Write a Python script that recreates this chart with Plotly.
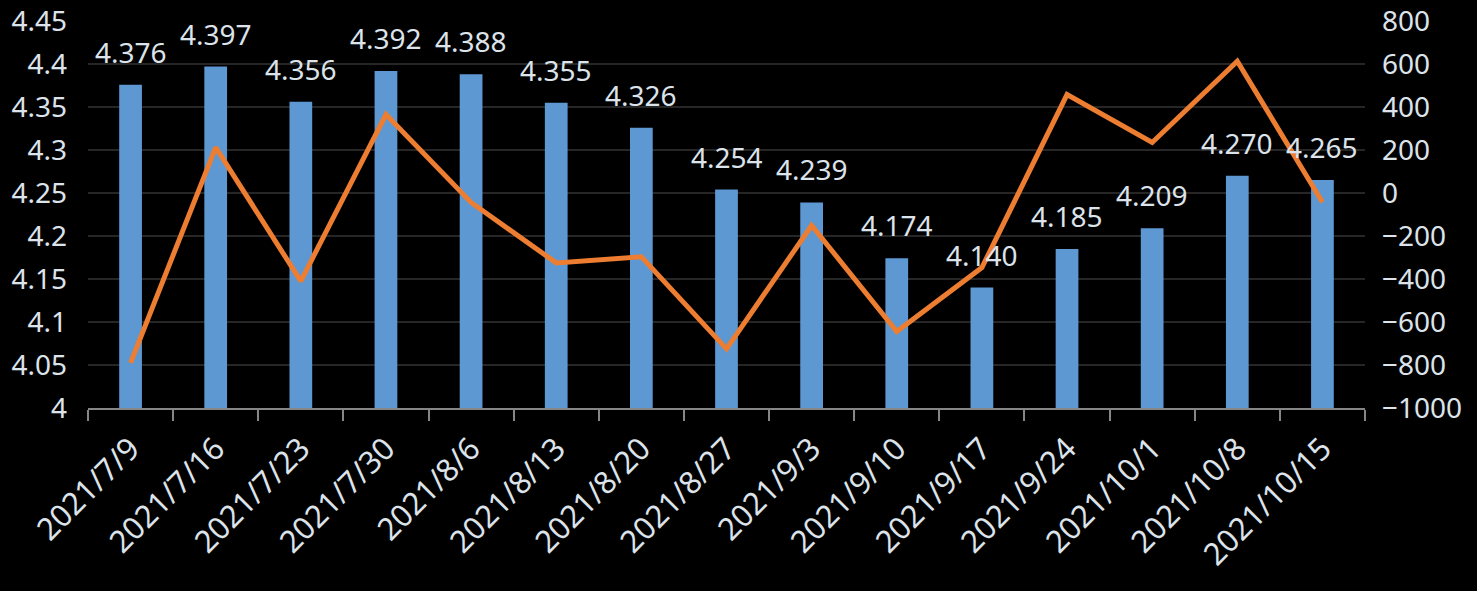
import plotly.graph_objects as go

categories = ["2021/7/9", "2021/7/16", "2021/7/23", "2021/7/30", "2021/8/6", "2021/8/13",
              "2021/8/20", "2021/8/27", "2021/9/3", "2021/9/10", "2021/9/17", "2021/9/24",
              "2021/10/1", "2021/10/8", "2021/10/15"]
bar_values = [4.376, 4.397, 4.356, 4.392, 4.388, 4.355, 4.326, 4.254, 4.239, 4.174,
              4.140, 4.185, 4.209, 4.270, 4.265]
line_values = [-790, 212, -410, 365, -44, -325, -297, -725, -151, -644,
               -347, 458, 235, 613, -43]
left_ticks = [4, 4.05, 4.1, 4.15, 4.2, 4.25, 4.3, 4.35, 4.4, 4.45]
left_tick_text = ["4", "4.05", "4.1", "4.15", "4.2", "4.25", "4.3", "4.35", "4.4", "4.45"]
right_ticks = [-1000, -800, -600, -400, -200, 0, 200, 400, 600, 800]

FONT = "Noto Sans"
TXT = "#dde3ea"

fig = go.Figure()
fig.add_trace(go.Bar(
    x=categories, y=bar_values, marker=dict(color="#5d98d3", line=dict(width=0)),
    yaxis="y", showlegend=False, hoverinfo="x+y"))
fig.add_trace(go.Scatter(
    x=categories, y=line_values, mode="lines", yaxis="y2",
    line=dict(color="#ed7d31", width=5), showlegend=False))

for c, v in zip(categories, bar_values):
    fig.add_annotation(x=c, y=v, xref="x", yref="y", text=f"{v:.3f}", showarrow=False,
                       yanchor="bottom", yshift=12, font=dict(family=FONT, size=28, color=TXT))

fig.update_layout(
    width=1477, height=591,
    margin=dict(l=88, r=112, t=21, b=183, autoexpand=False),
    paper_bgcolor="black", plot_bgcolor="black",
    bargap=0.733,
    font=dict(family=FONT, size=28, color=TXT),
    xaxis=dict(type="category", tickangle=-45, tickson="boundaries", ticks="outside",
               ticklen=11, tickwidth=2, tickcolor="#868686", showline=True,
               linecolor="#868686", linewidth=2, showgrid=False, automargin=False,
               ticklabelstandoff=8,
               tickfont=dict(family=FONT, size=31, color=TXT)),
    yaxis=dict(range=[4, 4.45], tickvals=left_ticks, ticktext=left_tick_text,
               showgrid=True, gridcolor="#262626", gridwidth=2, zeroline=False,
               showline=False, ticks="", ticklabelstandoff=20, automargin=False,
               tickfont=dict(family=FONT, size=28, color=TXT)),
    yaxis2=dict(range=[-1000, 800], tickvals=right_ticks, overlaying="y", side="right",
                showgrid=False, zeroline=False, showline=False, ticks="",
                ticklabelstandoff=16, automargin=False,
                tickfont=dict(family=FONT, size=28, color=TXT)),
)

fig.write_html("out.html", config={"displayModeBar": False},
               post_script="document.body.style.margin='0';document.body.style.background='black';")
